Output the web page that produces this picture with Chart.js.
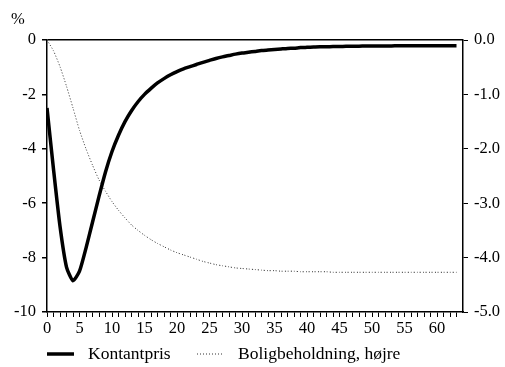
<!DOCTYPE html>
<html>
<head>
<meta charset="utf-8">
<script src="https://cdn.jsdelivr.net/npm/chart.js@4"></script>
<style>
  html, body { margin: 0; padding: 0; background: #fff; }
  #wrap { width: 505px; height: 367px; }
</style>
</head>
<body>
<div id="wrap"><canvas id="c" width="505" height="367"></canvas></div>
<script>
// Quarters after the shock
const quarters = Array.from({length: 64}, (_, i) => i);

// Kontantpris, % (left axis)
const kontantpris = [
  -2.50, -4.75, -6.85, -8.35, -8.85, -8.50, -7.65, -6.70, -5.75, -4.85,
  -4.10, -3.50, -3.00, -2.60, -2.27, -2.00, -1.78, -1.58, -1.42, -1.28,
  -1.16, -1.06, -0.98, -0.90, -0.82, -0.75, -0.68, -0.62, -0.57, -0.52,
  -0.48, -0.45, -0.42, -0.39, -0.37, -0.35, -0.33, -0.31, -0.30, -0.28,
  -0.27, -0.26, -0.25, -0.25, -0.24, -0.24, -0.23, -0.23, -0.23, -0.22,
  -0.22, -0.22, -0.22, -0.22, -0.21, -0.21, -0.21, -0.21, -0.21, -0.21,
  -0.21, -0.21, -0.21, -0.21
];

// Boligbeholdning, % (right axis)
const boligbeholdning = [
   0.00, -0.20, -0.49, -0.85, -1.25, -1.66, -2.00, -2.30, -2.57, -2.78,
  -2.97, -3.13, -3.27, -3.40, -3.50, -3.59, -3.67, -3.74, -3.80, -3.86,
  -3.91, -3.95, -3.99, -4.03, -4.07, -4.10, -4.13, -4.15, -4.17, -4.19,
  -4.20, -4.21, -4.22, -4.23, -4.24, -4.24, -4.25, -4.25, -4.25, -4.26,
  -4.26, -4.26, -4.26, -4.26, -4.27, -4.27, -4.27, -4.27, -4.27, -4.27,
  -4.27, -4.27, -4.27, -4.27, -4.27, -4.27, -4.27, -4.27, -4.27, -4.27,
  -4.27, -4.27, -4.27, -4.27
];

const seriesLabels = ['Kontantpris', 'Boligbeholdning, højre'];
const leftTicks = [0, -2, -4, -6, -8, -10];
const rightTicks = [0, -1, -2, -3, -4, -5];
const unitLabel = '%';

const FONT = '"Liberation Serif", "Times New Roman", serif';
const tickFont = { family: FONT, size: 16.5 };

// Legend row and unit label drawn beneath / above the plot
const legendPlugin = {
  id: 'bottomLegend',
  afterDraw(chart) {
    const ctx = chart.ctx;
    ctx.save();
    ctx.font = '17.5px ' + FONT;
    ctx.fillStyle = '#000';
    ctx.textBaseline = 'middle';
    const y = 354;
    chart.data.datasets.forEach((ds, i) => {
      const x0 = i === 0 ? 47 : 197;
      ctx.beginPath();
      ctx.strokeStyle = ds.borderColor;
      ctx.lineWidth = ds.borderWidth;
      ctx.setLineDash(ds.borderDash || []);
      ctx.moveTo(x0, y);
      ctx.lineTo(x0 + 27, y);
      ctx.stroke();
      ctx.setLineDash([]);
      ctx.textAlign = 'left';
      ctx.fillText(ds.label, x0 + 41, y);
    });
    ctx.textAlign = 'left';
    ctx.textBaseline = 'alphabetic';
    ctx.font = '16.5px ' + FONT;
    ctx.fillText(unitLabel, 11, 24);
    ctx.restore();
  }
};

const toXY = arr => arr.map((v, i) => ({ x: quarters[i], y: v }));

new Chart(document.getElementById('c'), {
  type: 'line',
  data: {
    datasets: [
      {
        label: seriesLabels[0],
        data: toXY(kontantpris),
        yAxisID: 'y',
        borderColor: '#000',
        borderWidth: 3.5,
        pointRadius: 0,
        tension: 0.2,
        fill: false
      },
      {
        label: seriesLabels[1],
        data: toXY(boligbeholdning),
        yAxisID: 'y2',
        borderColor: '#333',
        borderWidth: 1,
        borderDash: [1, 2],
        pointRadius: 0,
        tension: 0.2,
        fill: false
      }
    ]
  },
  options: {
    responsive: false,
    animation: false,
    layout: { padding: { top: 40, left: 0, right: 0, bottom: 30 } },
    plugins: {
      legend: { display: false },
      tooltip: { enabled: false }
    },
    scales: {
      x: {
        type: 'linear',
        min: 0,
        max: 64,
        afterFit(s) { s.height = 25; },
        border: { display: true, color: '#000', width: 1.5 },
        grid: {
          drawOnChartArea: false,
          drawTicks: true,
          tickLength: 5,
          tickColor: c => (c.tick && c.tick.value === 64) ? 'rgba(0,0,0,0)' : '#000'
        },
        ticks: {
          stepSize: 1,
          autoSkip: false,
          maxRotation: 0,
          padding: 2,
          color: '#000',
          font: tickFont,
          callback: v => (v % 5 === 0 && v < 64) ? String(v) : ''
        }
      },
      y: {
        position: 'left',
        min: -10,
        max: 0,
        afterFit(s) { s.width = 47; },
        afterBuildTicks(s) { s.ticks = leftTicks.map(v => ({ value: v })); },
        border: { display: true, color: '#000', width: 1.5 },
        grid: {
          drawOnChartArea: true,
          drawTicks: true,
          tickLength: 5,
          lineWidth: 1.5,
          color: c => (c.tick && c.tick.value === 0) ? '#000' : 'rgba(0,0,0,0)',
          tickColor: '#000'
        },
        ticks: {
          padding: 6,
          color: '#000',
          font: tickFont,
          callback: v => String(v)
        }
      },
      y2: {
        position: 'right',
        min: -5,
        max: 0,
        afterFit(s) { s.width = 42; },
        afterBuildTicks(s) { s.ticks = rightTicks.map(v => ({ value: v })); },
        border: { display: true, color: '#000', width: 1.5 },
        grid: {
          drawOnChartArea: false,
          drawTicks: true,
          tickLength: 5,
          tickColor: '#000'
        },
        ticks: {
          padding: 6,
          color: '#000',
          font: tickFont,
          callback: v => Number(v).toFixed(1)
        }
      }
    }
  },
  plugins: [legendPlugin]
});
</script>
</body>
</html>
